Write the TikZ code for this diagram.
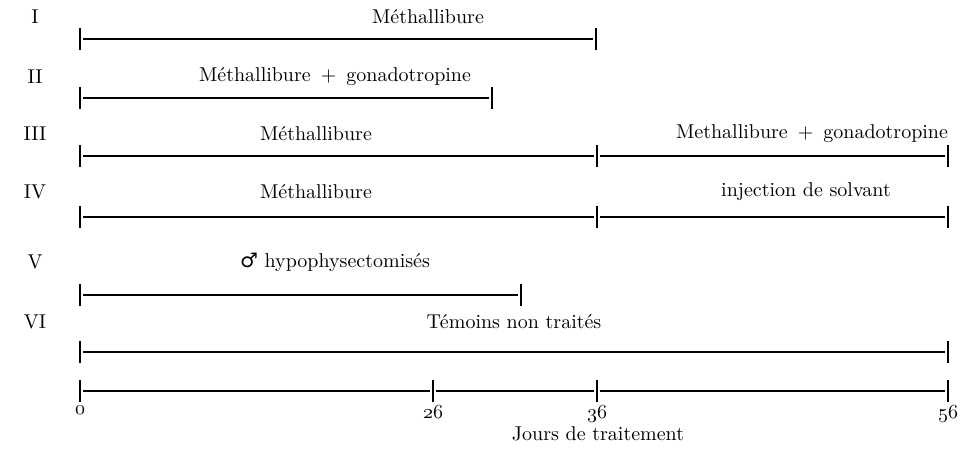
\documentclass[tikz,border=0pt]{standalone}
\usepackage{fontspec}
\newfontfamily\symbfont{DejaVu Sans}
\usetikzlibrary{positioning}

\tikzset{
	bar/.style={line width=.6pt, shorten <=1.5pt, shorten >=1.5pt},
	tickmark/.style={line width=.9pt},
}

\begin{document}
\begin{tikzpicture}[x=.5pt, y=-.5pt, inner sep=0pt]
	\useasboundingbox (0,0) rectangle (968,450);

	% numeros des lots
	\foreach \r/\lab/\ytxt in {1/I/17, 2/II/77, 3/III/134, 4/IV/192, 5/V/262, 6/VI/322} {
		\node (lot\r) at (35,\ytxt) {\lab};
	}

	% extremites des traits
	\coordinate (b1-0)  at (80,39);   \coordinate (b1-e) at (596,39);
	\coordinate (b2-0)  at (80,98);   \coordinate (b2-e) at (492,98);
	\coordinate (b3-0)  at (80,156);  \coordinate (b3-m) at (597,156);  \coordinate (b3-e) at (948,156);
	\coordinate (b4-0)  at (80,217);  \coordinate (b4-m) at (597,217);  \coordinate (b4-e) at (948,217);
	\coordinate (b5-0)  at (80,295);  \coordinate (b5-e) at (521,295);
	\coordinate (b6-0)  at (80,352);  \coordinate (b6-e) at (948,352);
	\coordinate (ax-0)  at (80,391);  \coordinate (ax-26) at (433,391);
	\coordinate (ax-36) at (597,391); \coordinate (ax-56) at (948,391);

	\foreach \a/\b in {b1-0/b1-e, b2-0/b2-e, b3-0/b3-m, b3-m/b3-e, b4-0/b4-m, b4-m/b4-e,
	                   b5-0/b5-e, b6-0/b6-e, ax-0/ax-26, ax-26/ax-36, ax-36/ax-56}
		\draw [bar] (\a) -- (\b);

	\foreach \c in {b1-0,b1-e,b2-0,b2-e,b3-0,b3-m,b3-e,b4-0,b4-m,b4-e,
	                b5-0,b5-e,b6-0,b6-e,ax-0,ax-26,ax-36,ax-56}
		\draw [tickmark] (\c) ++(0,-11) -- ++(0,22);

	% traitements
	\node (t1)  at (428,17)  {Méthallibure};
	\node (t2)  at (335,77)  {Méthallibure\enspace$+$\enspace gonadotropine};
	\node (t3a) at (316,134) {Méthallibure};
	\node (t3b) at (812,134) {Methallibure\enspace$+$\enspace gonadotropine};
	\node (t4a) at (316,192) {Méthallibure};
	\node (t4b) at (806,192) {injection de solvant};
	\node (t5)  at (335,262) {{\symbfont ♂} hypophysectomisés};
	\node (t6)  at (514,322) {Témoins non traités};

	% axe des jours
	\foreach \d in {0,26,36,56}
		\node [below=7pt of ax-\d] (n\d) {$\mathnormal{\d}$};
	\node (jours) at (598,434) {Jours de traitement};
\end{tikzpicture}
\end{document}
